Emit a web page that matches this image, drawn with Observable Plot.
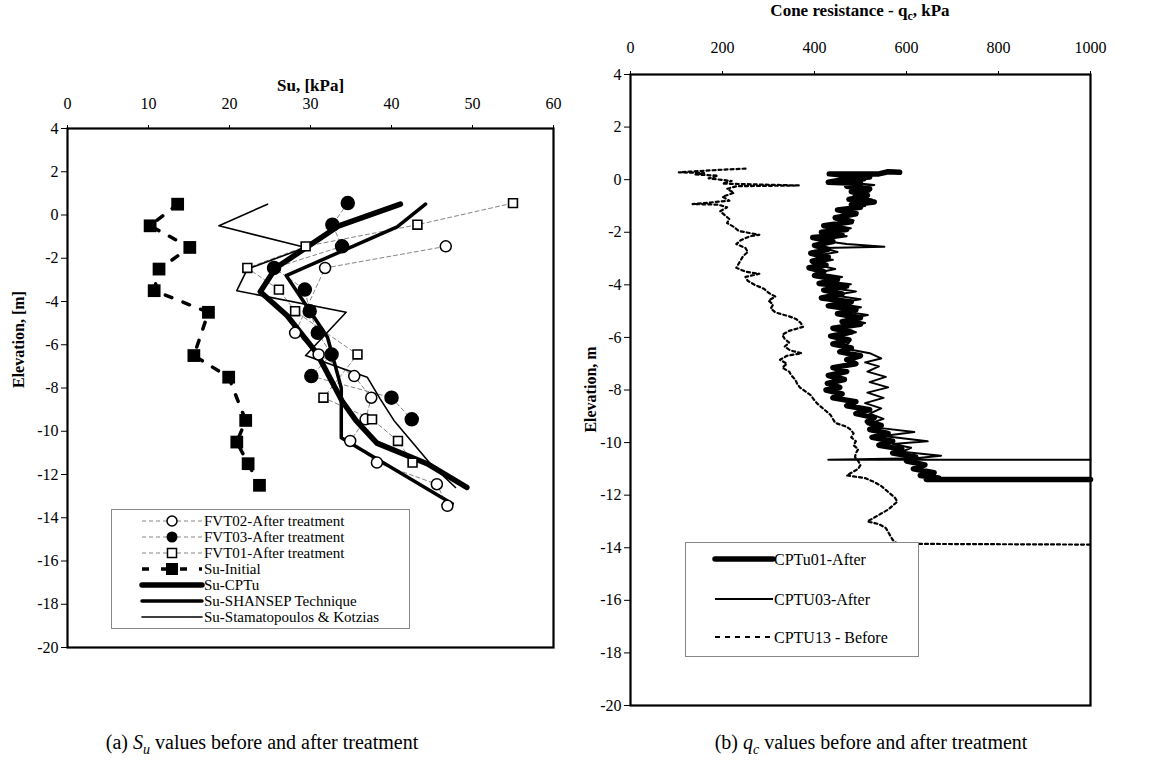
<!DOCTYPE html>
<html><head><meta charset="utf-8">
<script src="https://cdn.jsdelivr.net/npm/d3@7"></script>
<script src="https://cdn.jsdelivr.net/npm/@observablehq/plot@0.6"></script>
<style>
body{margin:0;background:#fff;width:1175px;height:769px;position:relative;overflow:hidden;font-family:"Liberation Serif","Times New Roman",serif;color:#000;}
.panel{position:absolute;top:0;}
.leg{position:absolute;}
.cap{position:absolute;font-size:20px;white-space:nowrap;transform:translate(-50%,-50%);}
</style></head>
<body>
<div id="left" class="panel" style="left:0"></div>
<div id="right" class="panel" style="left:580px"></div>
<div class="cap" style="left:262px;top:744px">(a) <i>S</i><sub style="font-size:14px"><i>u</i></sub> values before and after treatment</div>
<div class="cap" style="left:871px;top:744px">(b) <i>q</i><sub style="font-size:14px"><i>c</i></sub> values before and after treatment</div>
<script>
// ---------- Panel (a): Su profiles ----------
const suTicks = [0, 10, 20, 30, 40, 50, 60];
const elevTicks = [-20, -18, -16, -14, -12, -10, -8, -6, -4, -2, 0, 2, 4];

const fvt02Elev = [-1.45, -2.45, -5.45, -6.45, -7.45, -8.45, -9.45, -10.45, -11.45, -12.45, -13.45];
const fvt02Su   = [46.7, 31.8, 28.1, 31.0, 35.4, 37.5, 36.8, 34.9, 38.2, 45.6, 46.9];

const fvt03Elev = [0.55, -0.45, -1.45, -2.45, -3.45, -4.45, -5.45, -6.45, -7.45, -8.45, -9.45];
const fvt03Su   = [34.6, 32.7, 33.9, 25.5, 29.3, 29.9, 30.9, 32.6, 30.1, 40.0, 42.5];

const fvt01Elev = [0.55, -0.45, -1.45, -2.45, -3.45, -4.45, -6.45, -8.45, -9.45, -10.45, -11.45];
const fvt01Su   = [55.0, 43.2, 29.4, 22.2, 26.1, 28.1, 35.8, 31.6, 37.6, 40.8, 42.6];

const initElev = [0.5, -0.5, -1.5, -2.5, -3.5, -4.5, -6.5, -7.5, -9.5, -10.5, -11.5, -12.5];
const initSu   = [13.6, 10.2, 15.1, 11.3, 10.7, 17.4, 15.6, 19.9, 22.0, 20.9, 22.3, 23.7];

const cptuElev = [0.5, -0.5, -2.45, -3.55, -4.65, -6.4, -8.6, -9.5, -10.55, -11.5, -12.6];
const cptuSu   = [41.1, 33.5, 25.7, 23.8, 27.1, 30.8, 33.9, 35.6, 38.2, 44.4, 49.3];

const shansepElev = [0.5, -0.55, -2.8, -5.65, -8.0, -10.3, -13.35];
const shansepSu   = [44.2, 40.7, 27.0, 32.1, 33.8, 33.8, 47.5];

const stamElev = [0.5, -0.5, -1.5, -2.5, -3.5, -4.5, -6.5, -7.5, -8.5, -9.5, -11.5, -12.6];
const stamSu   = [24.7, 18.7, 29.4, 22.2, 20.9, 34.4, 29.4, 37.0, 38.6, 40.3, 44.8, 47.9];

const leftLegend = ["FVT02-After treatment", "FVT03-After treatment", "FVT01-After treatment",
  "Su-Initial", "Su-CPTu", "Su-SHANSEP Technique", "Su-Stamatopoulos & Kotzias"];

// ---------- Panel (b): cone resistance profiles [qc kPa, elevation m] ----------
const qcTicks = [0, 200, 400, 600, 800, 1000];

const cptu01 = [
 [585,0.28],[560,0.3],[540,0.22],[432,0.22],[480,0.15],[520,0.1],[470,0.03],[430,-0.1],[500,-0.15],[470,-0.25],
 [520,-0.35],[480,-0.45],[515,-0.6],[475,-0.75],[530,-0.85],[480,-0.95],[500,-1.05],[450,-1.15],[490,-1.3],[445,-1.45],
 [480,-1.6],[420,-1.75],[470,-1.9],[415,-2.0],[460,-2.1],[396,-2.2],[440,-2.35],[400,-2.5],[430,-2.65],[392,-2.8],
 [430,-2.95],[395,-3.1],[425,-3.25],[388,-3.35],[420,-3.5],[400,-3.65],[450,-3.8],[410,-3.95],[470,-4.05],[420,-4.2],
 [460,-4.35],[415,-4.5],[480,-4.65],[430,-4.8],[490,-4.95],[450,-5.1],[500,-5.25],[460,-5.4],[500,-5.5],[440,-5.65],
 [480,-5.8],[435,-5.95],[475,-6.1],[440,-6.25],[480,-6.4],[455,-6.55],[500,-6.7],[470,-6.85],[490,-7.0],[440,-7.15],
 [470,-7.3],[430,-7.45],[465,-7.6],[428,-7.75],[455,-7.9],[425,-8.0],[460,-8.15],[440,-8.3],[490,-8.45],[470,-8.6],
 [520,-8.75],[490,-8.9],[530,-9.05],[515,-9.2],[545,-9.35],[520,-9.5],[560,-9.65],[525,-9.8],[570,-9.95],[540,-10.1],
 [590,-10.25],[570,-10.4],[620,-10.55],[600,-10.7],[640,-10.85],[615,-11.0],[660,-11.15],[630,-11.25],[670,-11.35],[643,-11.4],
 [1000,-11.4]
];

const cptu03 = [
 [460,0.25],[500,0.18],[455,0.08],[510,-0.02],[480,-0.12],[530,-0.2],[490,-0.3],[520,-0.45],[485,-0.6],[525,-0.75],
 [490,-0.9],[510,-1.0],[460,-1.1],[494,-1.25],[450,-1.4],[485,-1.55],[430,-1.7],[479,-1.85],[420,-2.0],[470,-2.15],
 [410,-2.3],[470,-2.45],[552,-2.55],[420,-2.6],[450,-2.75],[400,-2.9],[440,-3.05],[395,-3.2],[445,-3.4],[405,-3.55],
 [460,-3.7],[420,-3.85],[479,-3.98],[430,-4.1],[490,-4.25],[440,-4.4],[500,-4.55],[445,-4.7],[501,-4.85],[460,-5.0],
 [516,-5.15],[470,-5.3],[510,-5.45],[455,-5.6],[490,-5.8],[445,-6.0],[475,-6.2],[460,-6.4],[520,-6.6],[545,-6.8],
 [510,-6.95],[540,-7.1],[515,-7.3],[555,-7.5],[520,-7.7],[560,-7.9],[515,-8.1],[550,-8.3],[510,-8.5],[545,-8.7],
 [520,-8.9],[550,-9.1],[515,-9.3],[545,-9.45],[617,-9.6],[550,-9.75],[600,-9.85],[646,-9.95],[570,-10.05],[610,-10.2],
 [590,-10.35],[675,-10.5],[620,-10.6],[430,-10.65],[1000,-10.65]
];

const cptu13 = [
 [250,0.42],[200,0.38],[105,0.28],[160,0.25],[140,0.2],[190,0.15],[170,0.05],[220,-0.05],[200,-0.15],[366,-0.22],
 [230,-0.25],[210,-0.35],[225,-0.5],[200,-0.65],[215,-0.8],[135,-0.93],[190,-0.95],[210,-1.05],[195,-1.2],[205,-1.35],
 [215,-1.5],[210,-1.65],[225,-1.8],[235,-1.95],[280,-2.1],[260,-2.15],[240,-2.3],[230,-2.45],[250,-2.6],[255,-2.75],
 [245,-2.9],[240,-3.05],[235,-3.2],[230,-3.35],[250,-3.5],[280,-3.58],[250,-3.7],[255,-3.85],[270,-4.0],[290,-4.15],
 [300,-4.3],[315,-4.45],[300,-4.6],[310,-4.75],[305,-4.9],[315,-5.05],[345,-5.2],[360,-5.3],[370,-5.45],[375,-5.6],
 [345,-5.75],[330,-5.9],[335,-6.05],[345,-6.2],[335,-6.35],[348,-6.5],[372,-6.6],[340,-6.7],[325,-6.85],[340,-7.0],
 [330,-7.15],[345,-7.3],[350,-7.45],[358,-7.6],[362,-7.75],[368,-7.9],[380,-8.05],[392,-8.2],[398,-8.35],[405,-8.5],
 [415,-8.65],[425,-8.8],[435,-8.95],[440,-9.1],[445,-9.25],[470,-9.4],[478,-9.5],[485,-9.65],[480,-9.8],[490,-9.95],
 [485,-10.1],[495,-10.25],[490,-10.4],[488,-10.55],[495,-10.7],[500,-10.85],[495,-11.0],[480,-11.15],[470,-11.25],[510,-11.35],
 [530,-11.5],[545,-11.65],[555,-11.8],[565,-11.95],[575,-12.1],[580,-12.25],[570,-12.4],[560,-12.55],[545,-12.7],[530,-12.85],
 [515,-13.0],[540,-13.1],[555,-13.25],[560,-13.4],[565,-13.55],[570,-13.7],[580,-13.85],[1000,-13.88]
];

const rightLegend = ["CPTu01-After", "CPTU03-After", "CPTU13 - Before"];

// ---------- build ----------
const rows = (ys, xs) => ys.map((e, i) => ({su: xs[i], elev: e}));
const FONT = '"Liberation Serif", "Times New Roman", serif';
const plain = d => String(d);

const fvt02 = rows(fvt02Elev, fvt02Su);
const fvt03 = rows(fvt03Elev, fvt03Su);
const fvt01 = rows(fvt01Elev, fvt01Su);
const init = rows(initElev, initSu);
const cptu = rows(cptuElev, cptuSu);
const shansep = rows(shansepElev, shansepSu);
const stam = rows(stamElev, stamSu);

const dash = {stroke: "#777", strokeWidth: 0.9, strokeDasharray: "4,3"};

const left = Plot.plot({
  width: 580, height: 662,
  marginLeft: 67, marginRight: 27, marginTop: 128, marginBottom: 15,
  style: {fontFamily: FONT, fontSize: "16px", color: "#000", background: "transparent", overflow: "visible"},
  x: {domain: [0, 60]},
  y: {domain: [-20, 4]},
  marks: [
    Plot.axisX({anchor: "top", ticks: suTicks, tickFormat: plain, tickSize: 4, tickPadding: 16, label: null, fontSize: 16}),
    Plot.axisY({ticks: elevTicks, tickFormat: plain, tickSize: 6, tickPadding: 3, label: null, fontSize: 16}),
    Plot.text(["Su, [kPa]"], {text: d => d, frameAnchor: "top", dy: -50, fontWeight: "bold", fontSize: 17}),
    Plot.text(["Elevation, [m]"], {text: d => d, frameAnchor: "left", dx: -49, rotate: -90, fontWeight: "bold", fontSize: 16}),
    Plot.line(fvt02, {x: "su", y: "elev", ...dash}),
    Plot.line(fvt03, {x: "su", y: "elev", ...dash}),
    Plot.line(fvt01, {x: "su", y: "elev", ...dash}),
    Plot.line(init, {x: "su", y: "elev", stroke: "#000", strokeWidth: 3.5, strokeDasharray: "7,12"}),
    Plot.line(stam, {x: "su", y: "elev", stroke: "#000", strokeWidth: 1.6}),
    Plot.line(shansep, {x: "su", y: "elev", stroke: "#000", strokeWidth: 3.5, strokeLinecap: "round"}),
    Plot.line(cptu, {x: "su", y: "elev", stroke: "#000", strokeWidth: 5.5, strokeLinecap: "round"}),
    Plot.dot(fvt02, {x: "su", y: "elev", r: 5.5, fill: "white", stroke: "#000", strokeWidth: 1.5}),
    Plot.dot(fvt03, {x: "su", y: "elev", r: 6.5, fill: "#000", stroke: "#000"}),
    Plot.dot(fvt01, {x: "su", y: "elev", r: 5, symbol: "square", fill: "white", stroke: "#000", strokeWidth: 1.6}),
    Plot.dot(init, {x: "su", y: "elev", r: 7.2, symbol: "square", fill: "#000", stroke: "none"}),
    Plot.frame({stroke: "#000", strokeWidth: 2.2})
  ]
});
document.getElementById("left").append(left);

const toRows = arr => arr.map(([q, e]) => ({q, elev: e}));

const right = Plot.plot({
  width: 560, height: 720,
  marginLeft: 50, marginRight: 50, marginTop: 74, marginBottom: 15,
  style: {fontFamily: FONT, fontSize: "16px", color: "#000", background: "transparent", overflow: "visible"},
  x: {domain: [0, 1000]},
  y: {domain: [-20, 4]},
  marks: [
    Plot.axisX({anchor: "top", ticks: qcTicks, tickFormat: plain, tickSize: 4, tickPadding: 18, label: null, fontSize: 16}),
    Plot.axisY({ticks: elevTicks, tickFormat: plain, tickSize: 6, tickPadding: 3, label: null, fontSize: 16}),
    Plot.line(toRows(cptu13), {x: "q", y: "elev", stroke: "#000", strokeWidth: 2.2, strokeDasharray: "3,3"}),
    Plot.line(toRows(cptu03), {x: "q", y: "elev", stroke: "#000", strokeWidth: 2}),
    Plot.line(toRows(cptu01), {x: "q", y: "elev", stroke: "#000", strokeWidth: 5.5, strokeLinejoin: "round"}),
    Plot.frame({stroke: "#000", strokeWidth: 2.2})
  ]
});
document.getElementById("right").append(right);

// axis titles of panel (b) (rich text with subscript)
const rs = d3.select(right);
rs.append("text").attr("x", 50 + 230).attr("y", 16).attr("text-anchor", "middle")
  .attr("font-family", FONT).attr("font-weight", "bold").attr("font-size", 17)
  .call(t => { t.append("tspan").text("Cone resistance - q");
               t.append("tspan").attr("font-size", 12).attr("dy", 4).text("c");
               t.append("tspan").attr("dy", -4).text(", kPa"); });
rs.append("text").attr("transform", `translate(${50 - 40},${(74 + 705) / 2}) rotate(-90)`)
  .attr("text-anchor", "middle").attr("dy", "0.35em")
  .attr("font-family", FONT).attr("font-weight", "bold").attr("font-size", 16).text("Elevation, m");

// ---------- legends ----------
function legendBox(x, y, w, h) {
  const s = d3.select("body").append("svg").attr("class", "leg")
    .style("left", x + "px").style("top", y + "px").attr("width", w).attr("height", h);
  s.append("rect").attr("x", 0.5).attr("y", 0.5).attr("width", w - 1).attr("height", h - 1)
    .attr("fill", "white").attr("stroke", "#888").attr("stroke-width", 1);
  return s;
}
const lg = legendBox(111, 509, 299, 120);
leftLegend.forEach((name, i) => {
  const y = 12 + i * 16;
  const g = lg.append("g");
  if (i < 3) {
    g.append("line").attr("x1", 31).attr("x2", 91).attr("y1", y).attr("y2", y)
      .attr("stroke", "#777").attr("stroke-width", 0.9).attr("stroke-dasharray", "4,3");
    if (i === 0) g.append("circle").attr("cx", 61).attr("cy", y).attr("r", 5).attr("fill", "white").attr("stroke", "#000").attr("stroke-width", 1.5);
    if (i === 1) g.append("circle").attr("cx", 61).attr("cy", y).attr("r", 5.5).attr("fill", "#000");
    if (i === 2) g.append("rect").attr("x", 56.5).attr("y", y - 4.5).attr("width", 9).attr("height", 9).attr("fill", "white").attr("stroke", "#000").attr("stroke-width", 1.5);
  } else if (i === 3) {
    g.append("line").attr("x1", 31).attr("x2", 91).attr("y1", y).attr("y2", y)
      .attr("stroke", "#000").attr("stroke-width", 3.5).attr("stroke-dasharray", "7,12");
    g.append("rect").attr("x", 55).attr("y", y - 6).attr("width", 12).attr("height", 12).attr("fill", "#000");
  } else {
    const sw = [5.5, 3.5, 1.6][i - 4];
    g.append("line").attr("x1", 31).attr("x2", 91).attr("y1", y).attr("y2", y)
      .attr("stroke", "#000").attr("stroke-width", sw).attr("stroke-linecap", "round");
  }
  g.append("text").attr("x", 93).attr("y", y).attr("dy", "0.35em")
    .attr("font-family", FONT).attr("font-size", 15).text(name);
});

const rg = legendBox(685, 542, 234, 115);
rightLegend.forEach((name, i) => {
  const y = [17, 57, 95][i];
  const sw = [5.5, 2, 2][i];
  rg.append("line").attr("x1", 30).attr("x2", 88).attr("y1", y).attr("y2", y)
    .attr("stroke", "#000").attr("stroke-width", sw)
    .attr("stroke-dasharray", i === 2 ? "5,5" : null).attr("stroke-linecap", i === 0 ? "round" : "butt");
  rg.append("text").attr("x", 89).attr("y", y).attr("dy", "0.35em")
    .attr("font-family", FONT).attr("font-size", 16).text(name);
});
</script>
</body></html>
